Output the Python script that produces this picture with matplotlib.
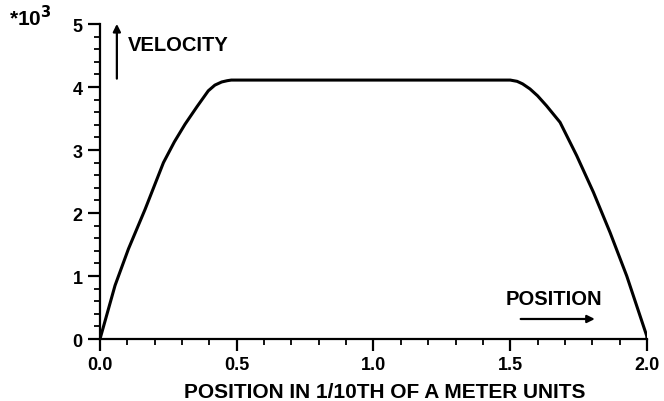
import matplotlib
matplotlib.use('Agg')
import matplotlib.pyplot as plt
from matplotlib.ticker import MultipleLocator, FormatStrFormatter

plt.rcParams['font.family'] = ['Liberation Sans', 'DejaVu Sans']
plt.rcParams['font.weight'] = 'bold'

# position (1/10 m) and velocity (*10^3)
position = [0.0, 0.055, 0.104, 0.165, 0.232, 0.272, 0.311, 0.355, 0.396,
            0.42, 0.445, 0.465, 0.48, 0.494, 0.70, 1.00, 1.30, 1.426,
            1.50, 1.525, 1.545, 1.572, 1.60, 1.633, 1.682, 1.743, 1.804,
            1.865, 1.926, 1.999, 2.0]
velocity = [0.0, 0.85, 1.43, 2.06, 2.80, 3.13, 3.41, 3.69, 3.94,
            4.03, 4.08, 4.10, 4.11, 4.11, 4.11, 4.11, 4.11, 4.11,
            4.11, 4.09, 4.05, 3.97, 3.86, 3.70, 3.44, 2.91, 2.33,
            1.69, 1.00, 0.05, 0.0]

x_ticks = [0.0, 0.5, 1.0, 1.5, 2.0]
y_ticks = [0, 1, 2, 3, 4, 5]

fig = plt.figure(figsize=(6.64, 4.02), dpi=100)
ax = fig.add_axes([0.1506, 0.1542, 0.8238, 0.7836])

ax.plot(position, velocity, color='black', lw=2.2, solid_joinstyle='round')

ax.set_xlim(0, 2.0)
ax.set_ylim(0, 5)
ax.set_xticks(x_ticks)
ax.set_yticks(y_ticks)
ax.xaxis.set_major_formatter(FormatStrFormatter('%.1f'))
ax.xaxis.set_minor_locator(MultipleLocator(0.1))
ax.yaxis.set_minor_locator(MultipleLocator(0.2))

for side in ('top', 'right'):
    ax.spines[side].set_visible(False)
for side in ('left', 'bottom'):
    ax.spines[side].set_linewidth(1.6)

ax.tick_params(which='major', direction='out', length=8.4, width=1.6,
               labelsize=13, pad=4)
ax.tick_params(which='minor', direction='out', length=4.5, width=1.3)
for lab in ax.get_xticklabels() + ax.get_yticklabels():
    lab.set_fontweight('bold')

ax.set_xlabel('POSITION IN 1/10TH OF A METER UNITS', fontsize=15,
              fontweight='bold')
ax.xaxis.label.set_va('baseline')
ax.xaxis.set_label_coords(0.521, -0.184)

fig.text(0.014, 0.955, r'*10$^{\mathbf{3}}$', fontsize=15, fontweight='bold',
         ha='left', va='center')
fig.text(0.192, 0.886, 'VELOCITY', fontsize=14.5, fontweight='bold',
         ha='left', va='center')
fig.text(0.762, 0.256, 'POSITION', fontsize=14.5, fontweight='bold',
         ha='left', va='center')

ax.annotate('', xy=(0.176, 0.945), xytext=(0.176, 0.795),
            xycoords='figure fraction', textcoords='figure fraction',
            arrowprops=dict(arrowstyle='-|>', color='black', lw=1.6,
                            mutation_scale=11))
ax.annotate('', xy=(0.900, 0.204), xytext=(0.780, 0.204),
            xycoords='figure fraction', textcoords='figure fraction',
            arrowprops=dict(arrowstyle='-|>', color='black', lw=1.6,
                            mutation_scale=11))

fig.savefig('out.png', dpi=100)
